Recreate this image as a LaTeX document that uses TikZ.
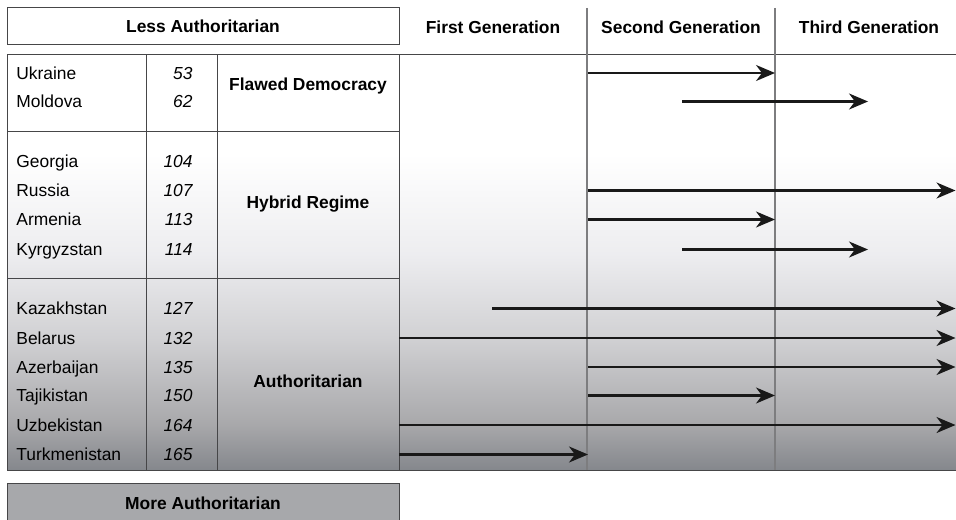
\documentclass[tikz,border=0pt]{standalone}
\usepackage{fontspec}
\setmainfont{Liberation Sans}
\usetikzlibrary{arrows.meta}
\definecolor{rulegray}{RGB}{70,70,72}
\definecolor{gengray}{RGB}{125,125,127}
\definecolor{moregray}{RGB}{167,168,171}
\pgfdeclareverticalshading{regimeshade}{100bp}{rgb(0bp)=(.52,.53,.55); rgb(25bp)=(.52,.53,.55); rgb(30.5bp)=(.66,.66,.67); rgb(41bp)=(.82,.82,.83); rgb(51bp)=(.93,.93,.94); rgb(63bp)=(1,1,1); rgb(100bp)=(1,1,1)}

\begin{document}
\begin{tikzpicture}[x=0.5pt, y=-0.5pt,
  every node/.style={font=\fontsize{8.7}{10}\selectfont, inner sep=0pt, text height=6.2pt, text depth=0pt},
  headbox/.style={draw=rulegray, line width=0.5pt, minimum width=196pt, minimum height=18.5pt, font=\fontsize{8.7}{10}\selectfont\bfseries},
  country/.style={anchor=west},
  score/.style={anchor=east, font=\fontsize{8.7}{10}\selectfont\itshape},
  regime/.style={font=\fontsize{8.7}{10}\selectfont\bfseries},
  genhead/.style={font=\fontsize{8.7}{10}\selectfont\bfseries},
  tabrule/.style={draw=rulegray, line width=0.5pt},
  genline/.style={draw=gengray, line width=0.7pt},
  trend/.style={-{Stealth[length=9.5pt, width=8pt, inset=3pt]}, line width=1.1pt, black!90}]
\useasboundingbox (0,0) rectangle (956,519);

% Shaded table and generation area
\shade[shading=regimeshade] (7,54.5) rectangle (956,470);

% Top and bottom boxes
\node[headbox] (less) at (203,26.5) {Less Authoritarian};
\node[headbox, fill=moregray, minimum height=20pt] (more) at (203,503) {More Authoritarian};

% Generation headers
\node[genhead] (gen1) at (493,27) {First Generation};
\node[genhead] (gen2) at (681,27) {Second Generation};
\node[genhead] (gen3) at (869,27) {Third Generation};

% Table rules
\draw[tabrule] (7,54.5) rectangle (399,470);
\draw[tabrule] (146,54.5) -- (146,470) (217,54.5) -- (217,470);
\draw[tabrule] (7,131) -- (399,131) (7,278) -- (399,278);
\draw[tabrule] (399,54.5) -- (956,54.5) (399,470) -- (956,470);

% Generation borders
\draw[genline] (587,8) -- (587,470);
\draw[genline] (775,8) -- (775,470);

% Column positions for the arrows
\coordinate (c1) at (399,0);
\coordinate (c1m) at (492,0);
\coordinate (c2) at (588,0);
\coordinate (c2m) at (682,0);
\coordinate (c3) at (775,0);
\coordinate (c3m) at (868,0);
\coordinate (cend) at (955.5,0);

% Flawed Democracy
\node[country] (ukr) at (16,73) {Ukraine};
\node[score] (ukrs) at (193,73) {53};
\node[country] (mol) at (16,101.5) {Moldova};
\node[score] (mols) at (193,101.5) {62};
\node[regime] (flawed) at (308,84.5) {Flawed Democracy};

% Hybrid Regime
\node[country] (geo) at (16,161.5) {Georgia};
\node[score] (geos) at (193,161.5) {104};
\node[country] (rus) at (16,190.5) {Russia};
\node[score] (russ) at (193,190.5) {107};
\node[country] (arm) at (16,219.5) {Armenia};
\node[score] (arms) at (193,219.5) {113};
\node[country] (kyr) at (16,249.5) {Kyrgyzstan};
\node[score] (kyrs) at (193,249.5) {114};
\node[regime] (hybrid) at (308,202) {Hybrid Regime};

% Authoritarian
\node[country] (kaz) at (16,308.5) {Kazakhstan};
\node[score] (kazs) at (193,308.5) {127};
\node[country] (bel) at (16,338) {Belarus};
\node[score] (bels) at (193,338) {132};
\node[country] (aze) at (16,367) {Azerbaijan};
\node[score] (azes) at (193,367) {135};
\node[country] (taj) at (16,395.5) {Tajikistan};
\node[score] (tajs) at (193,395.5) {150};
\node[country] (uzb) at (16,425) {Uzbekistan};
\node[score] (uzbs) at (193,425) {164};
\node[country] (tur) at (16,454.5) {Turkmenistan};
\node[score] (turs) at (193,454.5) {165};
\node[regime] (auth) at (308,381.5) {Authoritarian};

% Arrows
\draw[trend] (c2 |- ukr) -- (c3 |- ukr);
\draw[trend] (c2m |- mol) -- (c3m |- mol);
\draw[trend] (c2 |- rus) -- (cend |- rus);
\draw[trend] (c2 |- arm) -- (c3 |- arm);
\draw[trend] (c2m |- kyr) -- (c3m |- kyr);
\draw[trend] (c1m |- kaz) -- (cend |- kaz);
\draw[trend] (c1 |- bel) -- (cend |- bel);
\draw[trend] (c2 |- aze) -- (cend |- aze);
\draw[trend] (c2 |- taj) -- (c3 |- taj);
\draw[trend] (c1 |- uzb) -- (cend |- uzb);
\draw[trend] (c1 |- tur) -- (c2 |- tur);
\end{tikzpicture}
\end{document}
